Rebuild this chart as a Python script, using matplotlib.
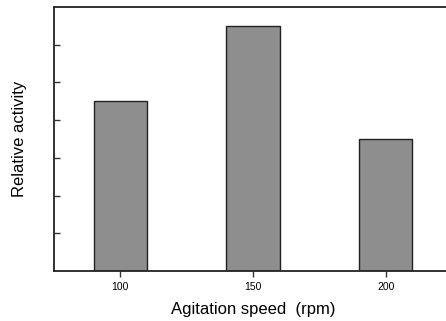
import matplotlib.pyplot as plt

# data
speeds = [100, 150, 200]
activity = [4.5, 6.5, 3.5]
xticks = [100, 150, 200]

plt.rcParams['font.family'] = ['Liberation Sans', 'DejaVu Sans']

fig = plt.figure(figsize=(4.46, 3.21), dpi=100)
# right edge of the axes falls just outside the picture, as in the scan
ax = fig.add_axes([54 / 446, 1 - 271 / 321, (452 - 54) / 446, (271 - 7) / 321])

ax.bar(speeds, activity, width=20, color='#8e8e8e', edgecolor='#222222', linewidth=1.0)

ax.set_xlim(75, 225)
ax.set_ylim(0, 7)
ax.set_xticks(xticks)
ax.set_xticklabels([str(v) for v in xticks], fontsize=7.5)
ax.set_yticks([1, 2, 3, 4, 5, 6])
ax.set_yticklabels([])

ax.tick_params(axis='y', direction='in', length=4, width=1, color='#333333')
ax.tick_params(axis='x', direction='out', length=4, width=1, color='#333333', pad=4)

for s in ['left', 'top', 'bottom', 'right']:
    ax.spines[s].set_linewidth(1.3)
    ax.spines[s].set_color('#222222')

ax.set_xlabel('Agitation speed  (rpm)', fontsize=12, labelpad=7)
ax.set_ylabel('Relative activity', fontsize=12, labelpad=16)

fig.savefig('out.png', dpi=100)
